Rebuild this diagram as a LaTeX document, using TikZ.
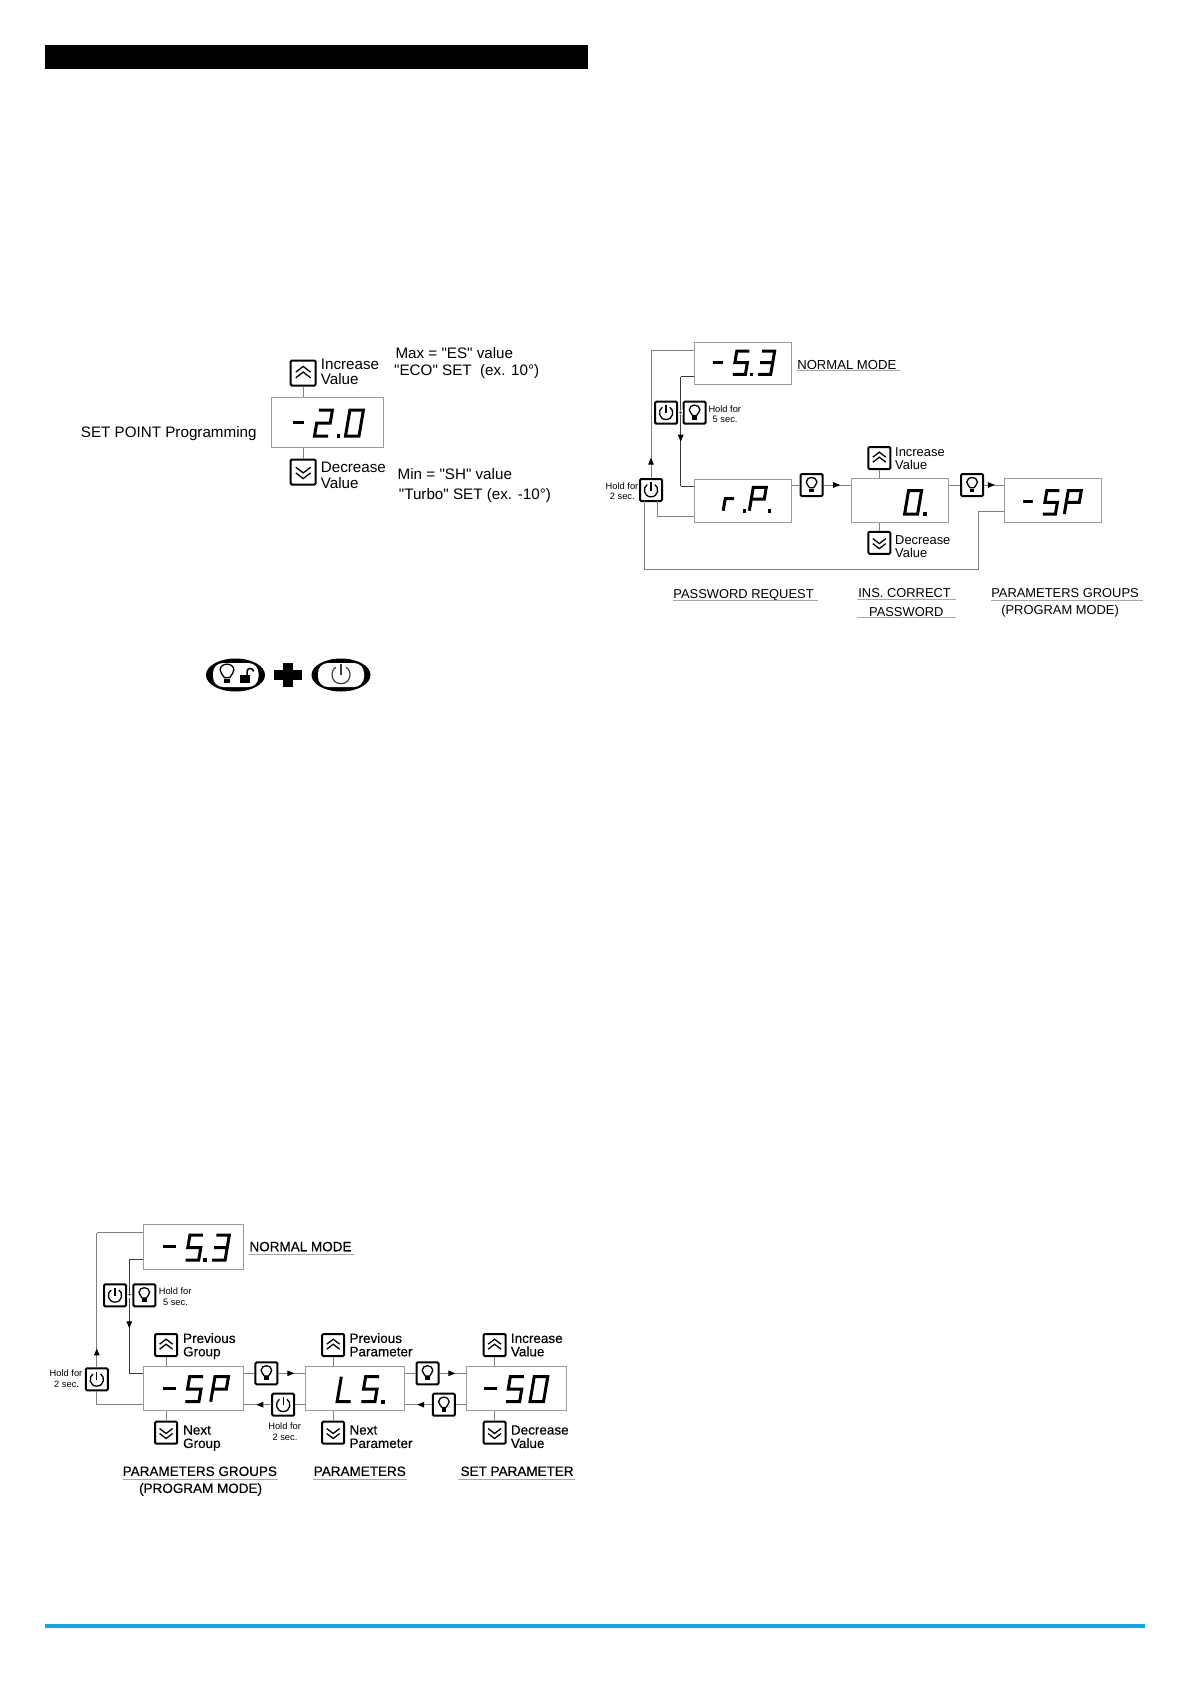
\documentclass[tikz,border=0pt]{standalone}
\usepackage{fontspec}
\setmainfont{Liberation Sans}
\newfontfamily\lsf{Liberation Sans}
\newfontfamily\lsfb[FakeBold=.3]{Liberation Sans}
\usetikzlibrary{arrows.meta,decorations.markings,shapes.geometric}
\definecolor{barblue}{HTML}{14A8DE}
\definecolor{boxgray}{HTML}{9A9A9A}
\definecolor{wirelight}{HTML}{808080}
\definecolor{wiredark}{HTML}{3A3A3A}
\definecolor{underl}{HTML}{A8A8A8}
\tikzset{
  display/.style={draw=boxgray,line width=1,fill=white,inner sep=0,minimum width=#1},
  btnframe/.style={draw=black,line width=2,rounded corners=1.2,fill=white,inner sep=0,minimum size=#1},
  wirel/.style={draw=wirelight,line width=1},
  wired/.style={draw=wiredark,line width=.8},
  ma/.style={postaction={decorate},decoration={markings,mark=at position #1 with {\pgfsetcolor{black}\arrow{Triangle[length=7pt,width=5.5pt]}}}},
  seg/.style={draw=black,line width=3,miter limit=10},
  glyph/.style={draw=black,line width=1.3,line cap=butt},
  uline/.style={draw=underl,line width=.8},
  tA/.style={inner sep=0,anchor=mid west,yshift=-3pt,font=\lsf\fontsize{15.2}{15.2}\selectfont},
  tB/.style={inner sep=0,anchor=mid west,yshift=-2.5pt,font=\lsf\fontsize{12.9}{12.9}\selectfont},
  tC/.style={inner sep=0,anchor=mid west,yshift=-2.6pt,font=\lsfb\fontsize{13.5}{13.5}\selectfont},
  tS/.style={inner sep=0,anchor=mid,yshift=-1.8pt,font=\lsf\fontsize{9.3}{9.3}\selectfont},
  tplus/.style={inner sep=0,anchor=center,font=\lsf\fontsize{8}{8}\selectfont},
}
% seven-segment shapes in a unit cell
\newcommand\gZero{(0,0)--(0,1)--(1,1)--(1,0)--cycle}
\newcommand\gTwo{(0,1)--(1,1)--(1,.5)--(0,.5)--(0,0)--(1,0)}
\newcommand\gThree{(0,1)--(1,1)--(1,0)--(0,0) (0,.5)--(1,.5)}
\newcommand\gFive{(1,1)--(0,1)--(0,.5)--(1,.5)--(1,0)--(0,0)}
\newcommand\gP{(0,0)--(0,1)--(1,1)--(1,.5)--(0,.5)}
\newcommand\gL{(0,1)--(0,0)--(1,0)}
\newcommand\gR{(0,0)--(0,1)--(1,1)}
\newcommand\sevseg[5]{\begin{scope}[shift={(#1,#2)},xslant=.17,x=#3pt,y=#4pt]\draw[seg] #5;\end{scope}}
\newcommand\segdot[2]{\fill[black] (#1-1.8,#2-1.8) rectangle (#1+1.8,#2+1.8);}
\newcommand\segdash[3]{\draw[seg] (#1,#3)--(#2,#3);}
% button glyphs, drawn on a frame of 22 units
\newcommand\glUp{\draw[glyph] (-6.5,-.8)--(0,-5.8)--(6.5,-.8) (-6.5,4.2)--(0,-.8)--(6.5,4.2);}
\newcommand\glDown{\draw[glyph] (-6.5,.8)--(0,5.8)--(6.5,.8) (-6.5,-4.2)--(0,.8)--(6.5,-4.2);}
\newcommand\glLamp{\draw[glyph] (-2,2.8) .. controls (-3,.5) and (-5.3,-.5) .. (-5.3,-3) .. controls (-5.3,-6) and (-2.6,-7.6) .. (0,-7.6) .. controls (2.6,-7.6) and (5.3,-6) .. (5.3,-3) .. controls (5.3,-.5) and (3,.5) .. (2,2.8) -- cycle;
  \fill[black] (-2.2,3.6) rectangle (2.2,6.8);}
\newcommand\glPower{\draw[glyph] (3.8,-5.4) .. controls (8.4,-2.8) and (7.6,6.8) .. (0,6.8) .. controls (-7.6,6.8) and (-8.4,-2.8) .. (-3.8,-5.4);
  \draw[glyph] (0,-7.6)--(0,.6);}
\newcommand\btn[5]{\node[btnframe=#4pt] (#1) at (#2,#3) {};
  \begin{scope}[shift={(#1.center)},scale=#4/22]#5\end{scope}}
\begin{document}
\begin{tikzpicture}[x=1pt,y=-1pt]
\useasboundingbox (0,0) rectangle (1190,1684);
\fill[white] (0,0) rectangle (1190,1684);
\fill[black] (45,45) rectangle (588,69);
\fill[barblue] (45,1624.4) rectangle (1145,1627.6);

%% ---------- SET POINT programming
\node[display=112pt,minimum height=50pt] (dA) at (327.3,422.3) {};
\btn{aUp}{303.2}{373}{25}{\glUp}
\btn{aDn}{303.2}{472}{25}{\glDown}
\draw[wirel] (aUp.south) -- (aUp.south |- dA.north);
\draw[wirel] (aDn.north) -- (aDn.north |- dA.south);
\segdash{292.7}{304}{422.5}
\sevseg{314.5}{436}{13.5}{26}{\gTwo}
\segdot{338.5}{436}
\sevseg{345.5}{436}{13.5}{26}{\gZero}
\node[tA] (aI) at (320.7,364) {Increase};
\node[tA] (aV) at (320.7,379) {Value};
\node[tA] (aD) at (320.7,467.3) {Decrease};
\node[tA] (aW) at (320.7,483) {Value};
\node[tA] (aMax) at (395.3,352.7) {Max = "ES" value};
\node[tA] (aEco) at (394,370.3) {"ECO" SET\ \ (ex. 10°)};
\node[tA] (aMin) at (397.5,474.3) {Min = "SH" value};
\node[tA] (aTur) at (398.7,494.3) {"Turbo" SET (ex. -10°)};
\node[tA] (aSet) at (80.7,432) {SET POINT Programming};

%% ---------- oval buttons
\node[ellipse,fill=black,inner sep=0,minimum width=59pt,minimum height=33pt] (ovL) at (235.5,675) {};
\node[ellipse,fill=black,inner sep=0,minimum width=59pt,minimum height=33pt] (ovR) at (341,675) {};
\fill[white,rounded corners=10] (213,663) rectangle (258.5,687);
\fill[white,rounded corners=10] (318,663) rectangle (364,687);
\begin{scope}[shift={(227,674)},scale=1.3]\glLamp\end{scope}
\fill[black] (240,674.5) rectangle (249.5,683);
\draw[black,line width=1.5] (247,675) -- (247,671.5) .. controls (247,667.5) and (253.5,667.5) .. (253.5,671.5);
\begin{scope}[shift={(341,674.5)},scale=1.35]
 \draw[draw=black!75,line width=1.2] (3.8,-5.4) .. controls (8.4,-2.8) and (7.6,6.8) .. (0,6.8) .. controls (-7.6,6.8) and (-8.4,-2.8) .. (-3.8,-5.4);
 \draw[draw=black!75,line width=1.2] (0,-7.6)--(0,.6);
\end{scope}
\fill[black] (273.5,670) rectangle (301.5,680);
\fill[black] (282.5,663) rectangle (292.5,687);

%% ---------- password diagram
\node[display=97pt,minimum height=42.3pt] (bN) at (742.8,363.8) {};
\node[display=97pt,minimum height=43.3pt] (bR) at (742.8,500.7) {};
\node[display=97pt,minimum height=44pt] (bZ) at (900.3,500.3) {};
\node[display=97.5pt,minimum height=44pt] (bS) at (1053,500.3) {};
\btn{bPa}{666.1}{412.7}{22}{\glPower}
\btn{bLa}{694.6}{412.7}{22}{\glLamp}
\btn{bPb}{651}{490}{22}{\glPower}
\btn{bLb}{811.6}{485}{22}{\glLamp}
\btn{bLc}{972.1}{485}{22}{\glLamp}
\btn{bUp}{879.3}{458}{22}{\glUp}
\btn{bDn}{879.3}{542.8}{22}{\glDown}
\coordinate (bA1) at (650.7,350.7);
\coordinate (bB1) at (680.7,376.7);
\coordinate (bB2) at (680.7,486);
\coordinate (bC1) at (657.9,516);
\coordinate (bC0) at (657.9,501);
\coordinate (bD0) at (644.6,501);
\coordinate (bD1) at (644.6,569);
\coordinate (bD2) at (978.6,569);
\coordinate (bD3) at (978.6,511);
\draw[wirel] (bA1 -| bN.west) -- (bA1 -| bPb.north);
\draw[wirel,ma=.16] (bPb.north) -- (bA1 -| bPb.north);
\draw[wired] (bB1 -| bN.west) -- (bB1);
\draw[wired,ma=.595] (bB1) -- (bB2);
\draw[wired] (bB2) -- (bB2 -| bR.west);
\draw[wirel] (bC0) -- (bC1) -- (bC1 -| bR.west);
\draw[wirel] (bD0) -- (bD1) -- (bD2) -- (bD3) -- (bD3 -| bS.west);
\draw[wirel] (bLb.west -| bR.east) -- (bLb.west);
\draw[wirel,ma=.6] (bLb.east) -- (bLb.east -| bZ.west);
\draw[wirel] (bLc.west -| bZ.east) -- (bLc.west);
\draw[wirel,ma=.55] (bLc.east) -- (bLc.east -| bS.west);
\draw[wirel] (bUp.south) -- (bUp.south |- bZ.north);
\draw[wirel] (bDn.north) -- (bDn.north |- bZ.south);
\node[tplus,fill=white,inner sep=.3pt] (bPl) at (680.6,412.7) {+};
\segdash{712.5}{723.2}{362.3}
\sevseg{732.9}{374.3}{12.5}{23.3}{\gFive}
\segdot{751.5}{374.3}
\sevseg{758.2}{374.3}{12.5}{23.3}{\gThree}
\sevseg{723.2}{510.7}{9}{12}{\gR}
\segdot{744.6}{510.7}
\sevseg{749.3}{510.7}{13}{23.3}{\gP}
\segdot{769.6}{510.7}
\sevseg{904.6}{514}{13}{23.3}{\gZero}
\segdot{925}{514}
\segdash{1022.5}{1033.2}{501.7}
\sevseg{1042.9}{514}{12.5}{23.3}{\gFive}
\sevseg{1064.3}{514}{13}{23.3}{\gP}
\node[tS] (bH1) at (724.8,407.7) {Hold for};
\node[tS] (bH2) at (725.1,418.3) {5 sec.};
\node[tS] (bH3) at (622,485) {Hold for};
\node[tS] (bH4) at (622.3,495) {2 sec.};
\node[tB] (bI) at (895,451) {Increase};
\node[tB] (bV) at (895,464) {Value};
\node[tB] (bD) at (895,539.3) {Decrease};
\node[tB] (bW) at (895,552.3) {Value};
\node[tB,font=\lsf\fontsize{13.1}{13.1}\selectfont] (bNm) at (797.1,364) {NORMAL MODE};
\node[tB] (bPw) at (673.2,593.3) {PASSWORD REQUEST};
\node[tB] (bIn) at (858.2,592.3) {INS. CORRECT};
\node[tB] (bPc) at (868.9,611) {PASSWORD};
\node[tB] (bPg) at (991.1,592.7) {PARAMETERS GROUPS};
\node[tB] (bPm) at (1001.1,609.3) {(PROGRAM MODE)};
\draw[uline] (797,370.7) -- (900,370.7);
\draw[uline] (673,600.7) -- (817.5,600.7);
\draw[uline] (857.1,599.3) -- (956.1,599.3);
\draw[uline] (857.1,617.3) -- (956.1,617.3);
\draw[uline] (991,600.7) -- (1142.8,600.7);

%% ---------- parameter diagram
\node[display=100pt,minimum height=45pt] (cN) at (193.6,1246.8) {};
\node[display=100pt,minimum height=44.3pt] (cG) at (193.6,1388.8) {};
\node[display=99.2pt,minimum height=44.3pt] (cL) at (355,1388.8) {};
\node[display=99.7pt,minimum height=44.3pt] (cS) at (516.2,1388.8) {};
\btn{cPa}{115}{1295.3}{22}{\glPower}
\btn{cLa}{144.3}{1295.3}{22}{\glLamp}
\btn{cPb}{96.8}{1379.3}{22}{\glPower}
\btn{cLb}{266.4}{1373.3}{22}{\glLamp}
\btn{cPc}{283.2}{1404.7}{22}{\glPower}
\btn{cLc}{427.5}{1373.3}{22}{\glLamp}
\btn{cLd}{443.9}{1404.7}{22}{\glLamp}
\btn{cU1}{166.1}{1345}{22}{\glUp}
\btn{cD1}{166.1}{1432.7}{22}{\glDown}
\btn{cU2}{333.2}{1345}{22}{\glUp}
\btn{cD2}{333.2}{1432.7}{22}{\glDown}
\btn{cU3}{494.6}{1345}{22}{\glUp}
\btn{cD3}{494.6}{1432.7}{22}{\glDown}
\coordinate (cA1) at (96.8,1232.7);
\coordinate (cB1) at (129.3,1259.3);
\coordinate (cB2) at (129.3,1373.3);
\coordinate (cC1) at (96.8,1404);
\draw[wirel] (cA1 -| cN.west) -- (cA1);
\draw[wirel,ma=.14] (cPb.north) -- (cA1);
\draw[wirel] (cPb.south) -- (cC1) -- (cC1 -| cG.west);
\draw[wired] (cB1 -| cN.west) -- (cB1);
\draw[wired,ma=.605] (cB1) -- (cB2);
\draw[wired] (cB2) -- (cB2 -| cG.west);
\draw[wirel] (cLb.west -| cG.east) -- (cLb.west);
\draw[wirel,ma=.6] (cLb.east) -- (cLb.east -| cL.west);
\draw[wirel] (cPc.east) -- (cPc.east -| cL.west);
\draw[wirel,ma=.55] (cPc.west) -- (cPc.west -| cG.east);
\draw[wirel] (cLc.west -| cL.east) -- (cLc.west);
\draw[wirel,ma=.6] (cLc.east) -- (cLc.east -| cS.west);
\draw[wirel] (cLd.east) -- (cLd.east -| cS.west);
\draw[wirel,ma=.55] (cLd.west) -- (cLd.west -| cL.east);
\draw[wirel] (cU1.south) -- (cU1.south |- cG.north);
\draw[wirel] (cD1.north) -- (cD1.north |- cG.south);
\draw[wirel] (cU2.south) -- (cU2.south |- cL.north);
\draw[wirel] (cD2.north) -- (cD2.north |- cL.south);
\draw[wirel] (cU3.south) -- (cU3.south |- cS.north);
\draw[wirel] (cD3.north) -- (cD3.north |- cS.south);
\node[tplus,fill=white,inner sep=.3pt] (cPl) at (129.5,1295.3) {+};
\segdash{163.2}{176.4}{1246.7}
\sevseg{185.7}{1260}{13}{25}{\gFive}
\segdot{205}{1260}
\sevseg{212.1}{1260}{13}{25}{\gThree}
\segdash{163.2}{176.4}{1388.3}
\sevseg{185.4}{1401.7}{13.5}{25}{\gFive}
\sevseg{210.7}{1401.7}{13.5}{25}{\gP}
\sevseg{337.1}{1401.7}{13.5}{25}{\gL}
\sevseg{361.4}{1401.7}{13.5}{25}{\gFive}
\segdot{382.9}{1401.7}
\segdash{483.9}{497.1}{1388.3}
\sevseg{506.1}{1401.7}{13.5}{25}{\gFive}
\sevseg{530}{1401.7}{13.5}{25}{\gZero}
\node[tS] (cH1) at (175.1,1290.3) {Hold for};
\node[tS] (cH2) at (175.5,1301) {5 sec.};
\node[tS] (cH3) at (66,1372) {Hold for};
\node[tS] (cH4) at (66.6,1383.3) {2 sec.};
\node[tS] (cH5) at (284.6,1425.3) {Hold for};
\node[tS] (cH6) at (285,1435.7) {2 sec.};
\node[tC] (c1a) at (182.9,1337.7) {Previous};
\node[tC] (c1b) at (182.9,1351) {Group};
\node[tC] (c1c) at (182.9,1429.3) {Next};
\node[tC] (c1d) at (182.9,1442.7) {Group};
\node[tC] (c2a) at (349.3,1337.7) {Previous};
\node[tC] (c2b) at (349.3,1351) {Parameter};
\node[tC] (c2c) at (349.3,1429.3) {Next};
\node[tC] (c2d) at (349.3,1442.7) {Parameter};
\node[tC] (c3a) at (510.7,1337.7) {Increase};
\node[tC] (c3b) at (510.7,1351) {Value};
\node[tC] (c3c) at (510.7,1429.3) {Decrease};
\node[tC] (c3d) at (510.7,1442.7) {Value};
\node[tC] (cNm) at (249.3,1246) {NORMAL MODE};
\node[tC] (cPg) at (122.5,1470.7) {PARAMETERS GROUPS};
\node[tC] (cPm) at (138.9,1487.7) {(PROGRAM MODE)};
\node[tC] (cPr) at (313.6,1470.7) {PARAMETERS};
\node[tC] (cSe) at (460.4,1470.7) {SET PARAMETER};
\draw[uline] (249.3,1254) -- (354.3,1254);
\draw[uline] (122.5,1479.3) -- (277.5,1479.3);
\draw[uline] (313,1479.3) -- (406.5,1479.3);
\draw[uline] (457.9,1479.3) -- (574.6,1479.3);
\end{tikzpicture}
\end{document}
